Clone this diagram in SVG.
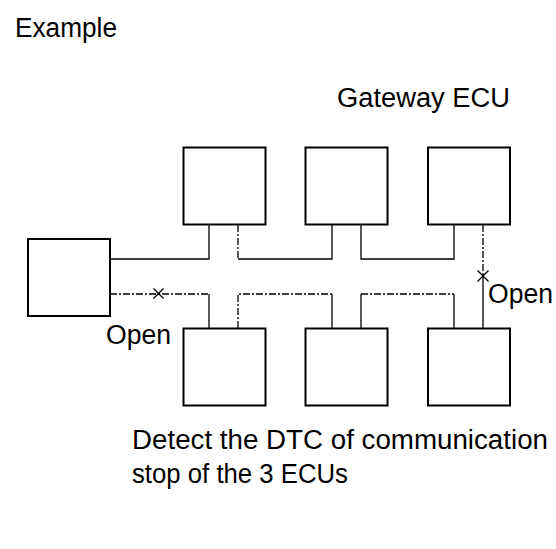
<svg xmlns="http://www.w3.org/2000/svg" width="556" height="549" viewBox="0 0 556 549">
<style>
text{font-family:"Liberation Sans",Arial,sans-serif;font-size:27px;fill:#000}
.box{fill:#fff;stroke:#000;stroke-width:2}
.w{fill:none;stroke:#000;stroke-width:1.3}
.d{fill:none;stroke:#000;stroke-width:1.3;stroke-dasharray:7 2 2 2}
</style>
<rect width="556" height="549" fill="#fff"/>
<text x="15" y="37" textLength="102" lengthAdjust="spacingAndGlyphs">Example</text>
<text x="337" y="107" textLength="173" lengthAdjust="spacingAndGlyphs">Gateway ECU</text>
<g id="connectors">
<path class="w" d="M110,259 H209 V225"/>
<path class="d" d="M238,225 V259"/>
<path class="w" d="M238,259 H332 V225"/>
<path class="w" d="M361,225 V259 H454 V225"/>
<path class="d" d="M483,225 V276"/>
<path class="w" d="M483,276 V328"/>
<path class="d" d="M110,294 H209"/>
<path class="w" d="M209,294 V328"/>
<path class="d" d="M238,328 V294 H332"/>
<path class="w" d="M332,294 V328"/>
<path class="w" d="M361,328 V294"/>
<path class="d" d="M361,294 H454"/>
<path class="w" d="M454,294 V328"/>
<path class="w" d="M153.5,288.5 l10,10 M153.5,298.5 l10,-10"/>
<path class="w" d="M477.5,270.5 l11,11 M477.5,281.5 l11,-11"/>
</g>
<g id="ecu-left"><rect class="box" x="28" y="239" width="82" height="77"/></g>
<g id="ecu-top1"><rect class="box" x="183.5" y="147.5" width="82" height="77"/></g>
<g id="ecu-top2"><rect class="box" x="305.5" y="147.5" width="82" height="77"/></g>
<g id="ecu-top3"><rect class="box" x="428" y="147.5" width="82" height="77"/></g>
<g id="ecu-bot1"><rect class="box" x="183.5" y="328.5" width="82" height="77"/></g>
<g id="ecu-bot2"><rect class="box" x="305.5" y="328.5" width="82" height="77"/></g>
<g id="ecu-bot3"><rect class="box" x="428" y="328.5" width="82" height="77"/></g>
<text x="106" y="344" textLength="65" lengthAdjust="spacingAndGlyphs">Open</text>
<text x="488" y="303" textLength="65" lengthAdjust="spacingAndGlyphs">Open</text>
<text x="132" y="449" textLength="416" lengthAdjust="spacingAndGlyphs">Detect the DTC of communication</text>
<text x="132" y="483" textLength="216" lengthAdjust="spacingAndGlyphs">stop of the 3 ECUs</text>
</svg>
